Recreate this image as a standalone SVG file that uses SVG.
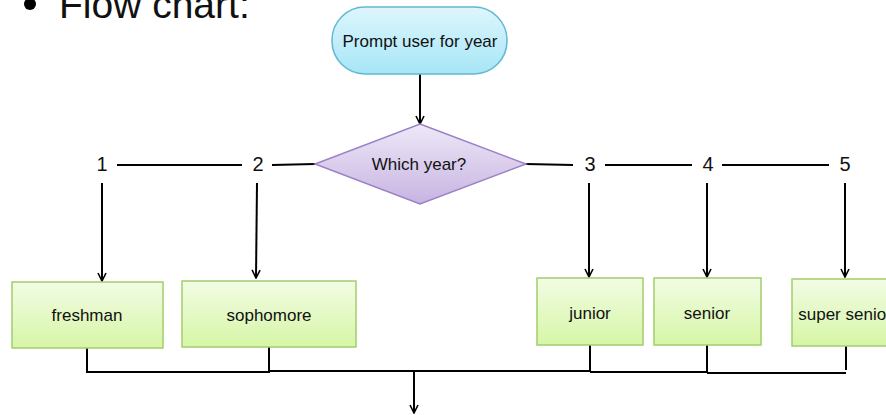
<svg xmlns="http://www.w3.org/2000/svg" width="886" height="415" viewBox="0 0 886 415">
<defs>
<linearGradient id="gCyan" x1="0" y1="0" x2="0" y2="1"><stop offset="0" stop-color="#def6fd"/><stop offset="1" stop-color="#a6e6f6"/></linearGradient>
<linearGradient id="gLav" x1="0" y1="0" x2="0" y2="1"><stop offset="0" stop-color="#eee8f7"/><stop offset="1" stop-color="#c7b4e2"/></linearGradient>
<linearGradient id="gGreen" x1="0" y1="0" x2="0" y2="1"><stop offset="0" stop-color="#f2fce4"/><stop offset="1" stop-color="#d6f6a6"/></linearGradient>
<marker id="arr" viewBox="0 0 10 10" refX="9" refY="5" markerWidth="10" markerHeight="10" markerUnits="userSpaceOnUse" orient="auto">
<path d="M1,1 L9,5 L1,9" fill="none" stroke="#000" stroke-width="1.6"/>
</marker>
<style>
.t{font-family:"Liberation Sans",Arial,sans-serif;font-size:17px;fill:#111;text-anchor:middle}
.d{font-family:"Liberation Sans",Arial,sans-serif;font-size:20px;fill:#111;text-anchor:middle}
.box{fill:url(#gGreen);stroke:#a3cd6c;stroke-width:1.5}
.ln{fill:none;stroke:#000;stroke-width:2}
.ar{fill:none;stroke:#000;stroke-width:2;marker-end:url(#arr)}
</style>
</defs>
<rect width="886" height="415" fill="#fff"/>
<g id="title">
<circle cx="30" cy="4" r="6" fill="#000"/>
<text x="59" y="18" font-family="Liberation Sans, Arial, sans-serif" font-size="39" fill="#111">Flow chart:</text>
</g>
<g id="connectors">
<line class="ar" x1="420" y1="74" x2="420" y2="124"/>
<line class="ln" x1="117" y1="165" x2="242" y2="165"/>
<line class="ln" x1="272" y1="165" x2="315" y2="164"/>
<line class="ln" x1="526" y1="164" x2="573" y2="165"/>
<line class="ln" x1="605" y1="165" x2="692" y2="165"/>
<line class="ln" x1="722" y1="165" x2="829" y2="165" stroke-width="1.5"/>
<line class="ar" x1="102" y1="183" x2="102" y2="281"/>
<line class="ar" x1="257" y1="183" x2="256" y2="278"/>
<line class="ar" x1="589" y1="183" x2="589" y2="277"/>
<line class="ar" x1="707" y1="183" x2="707" y2="277"/>
<line class="ar" x1="845" y1="183" x2="845" y2="277" stroke-width="1.5"/>
<polyline class="ln" points="87,348 87,372 269,372 269,347"/>
<line class="ln" x1="269" y1="371" x2="590" y2="371" stroke-width="2.5"/>
<line class="ln" x1="590" y1="345" x2="590" y2="372"/>
<line class="ln" x1="590" y1="372" x2="707" y2="372" stroke-width="1.5"/>
<line class="ln" x1="707" y1="345" x2="707" y2="373"/>
<line class="ln" x1="707" y1="373" x2="846" y2="373" stroke-width="2.5"/>
<line class="ln" x1="846" y1="346" x2="846" y2="370" stroke-width="1.5"/>
<line class="ar" x1="414" y1="371" x2="414" y2="413"/>
</g>
<g id="prompt">
<rect x="332" y="7" width="175" height="67" rx="33" fill="url(#gCyan)" stroke="#62b8d2" stroke-width="1.5"/>
<text class="t" x="420" y="47">Prompt user for year</text>
</g>
<g id="decision">
<polygon points="420,124 526,164 420,204 315,164" fill="url(#gLav)" stroke="#9b80c8" stroke-width="1.5"/>
<text class="t" x="419" y="170">Which year?</text>
</g>
<g id="labels">
<text class="d" x="102" y="171">1</text>
<text class="d" x="258" y="171">2</text>
<text class="d" x="590" y="171">3</text>
<text class="d" x="708" y="171">4</text>
<text class="d" x="845" y="171">5</text>
</g>
<g id="freshman"><rect class="box" x="12" y="282" width="151" height="66"/><text class="t" x="87" y="321">freshman</text></g>
<g id="sophomore"><rect class="box" x="182" y="281" width="174" height="66"/><text class="t" x="269" y="321">sophomore</text></g>
<g id="junior"><rect class="box" x="537" y="278" width="106" height="67"/><text class="t" x="590" y="319">junior</text></g>
<g id="senior"><rect class="box" x="654" y="278" width="107" height="67"/><text class="t" x="707" y="319">senior</text></g>
<g id="super-senior"><rect class="box" x="792" y="279" width="110" height="67"/><text class="t" x="845" y="320">super senior</text></g>
</svg>
